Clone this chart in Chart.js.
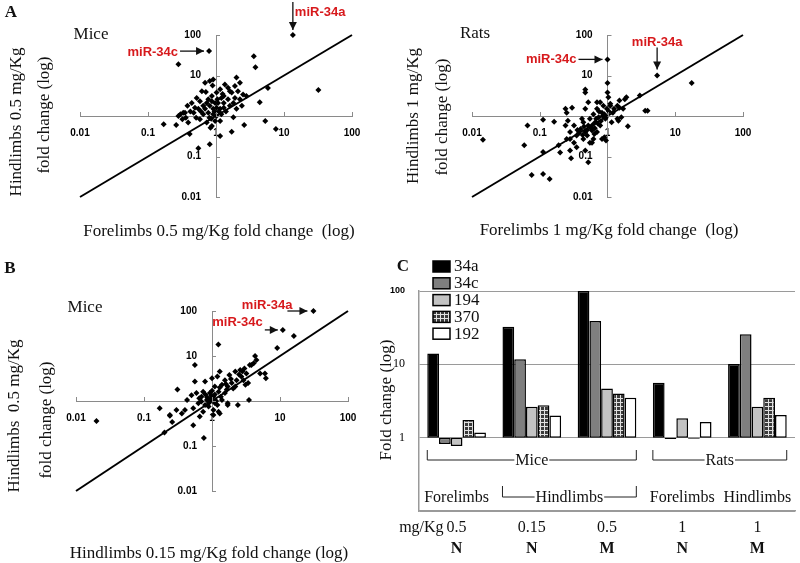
<!DOCTYPE html>
<html>
<head>
<meta charset="utf-8">
<script src="https://cdn.jsdelivr.net/npm/chart.js@4.4.1/dist/chart.umd.min.js"></script>
<style>
  body { margin: 0; width: 800px; height: 563px; background: #fff; position: relative; overflow: hidden; font-family: 'Liberation Serif', 'Times New Roman', serif; }
  .panel { position: absolute; z-index: 1; }
  .lbl { position: absolute; white-space: nowrap; transform: translate(-50%, -50%); font-size: 17px; color: #111; line-height: 1; z-index: 2; font-weight: normal; }
  .rot { transform: translate(-50%, -50%) rotate(-90deg); }
  .letter { font-weight: bold; font-size: 17px; }
</style>
</head>
<body>
<div class="panel" style="left:0;top:0;width:400px;height:250px"><canvas id="miceFore"></canvas></div>
<div class="panel" style="left:400px;top:0;width:400px;height:250px"><canvas id="ratsFore"></canvas></div>
<div class="panel" style="left:0;top:250px;width:380px;height:313px"><canvas id="miceDose"></canvas></div>
<div class="panel" style="left:380px;top:250px;width:420px;height:313px"><canvas id="mirBars"></canvas></div>

<div class="lbl letter" style="left:11px;top:11px">A</div>
<div class="lbl letter" style="left:10px;top:267px">B</div>
<div class="lbl letter" style="left:403px;top:265px">C</div>

<div class="lbl" style="left:91px;top:33px">Mice</div>
<div class="lbl" style="left:475px;top:32px">Rats</div>
<div class="lbl" style="left:85px;top:306px">Mice</div>

<div class="lbl rot" style="left:15px;top:122px">Hindlimbs 0.5 mg/Kg</div>
<div class="lbl rot" style="left:43px;top:115px">fold change (log)</div>
<div class="lbl rot" style="left:412px;top:116px">Hindlimbs 1 mg/Kg</div>
<div class="lbl rot" style="left:441px;top:117px">fold change (log)</div>
<div class="lbl rot" style="left:13px;top:416px">Hindlimbs&nbsp; 0.5 mg/Kg</div>
<div class="lbl rot" style="left:45px;top:420px">fold change (log)</div>

<div class="lbl" style="left:219px;top:230px">Forelimbs 0.5 mg/Kg fold change&nbsp; (log)</div>
<div class="lbl" style="left:609px;top:229px">Forelimbs 1 mg/Kg fold change&nbsp; (log)</div>
<div class="lbl" style="left:209px;top:552px">Hindlimbs 0.15 mg/Kg fold change (log)</div>

<script>
// ---- data ----
const logTicks = [0.01, 0.1, 1, 10, 100];
const identityLine = [0.01, 100];

// A (mice): forelimbs 0.5 vs hindlimbs 0.5
const miceFore05 = [0.69,0.81,0.91,0.89,0.62,0.71,0.52,0.44,0.38,0.33,0.30,0.47,0.55,0.65,0.77,0.87,1.02,1.15,1.35,1.5,1.7,2,2.25,2.1,1.9,2.25,2.5,2.8,2.4,2,1.6,1.3,1.15,1.02,0.97,0.87,0.73,0.58,0.65,0.77,0.91,1.07,1.2,1.5,1.8,1.4,1.2,1.15,0.83,1.3,1.6,1.9,0.58,0.49,0.42,0.36,0.32,0.51,0.39,0.35,0.28,
  0.97,0.81,1.02,0.87,0.73,1.3,0.91,0.8,0.69,1.1,0.95,0.85,1.05,0.6,1.25,
  0.17,0.26,0.41,0.55,0.81,1.15,1.7,2.6,1.8,3.6,3.8,5.8,4.4,5.3,7.6,32,0.28];
const miceHind05 = [6.6,7.3,8,5.7,4.1,3.9,2.8,2.1,1.8,1.2,1.1,1.2,1.5,1.8,2.6,3.1,3.8,4.6,6,5,3.8,8.9,6.6,4.1,2.8,2.6,3.4,3.1,1.8,1.5,1.8,2.1,1.5,1,0.75,0.57,0.69,0.83,1.1,1.2,1.5,2.1,2.8,2.6,2.1,1.3,1.1,0.75,0.51,3.1,4.1,5.5,2.3,1.6,1.3,0.91,0.83,0.91,0.69,1.2,1.0,
  2.1,1.8,1.6,2.3,2.1,1.6,1.1,0.91,1.5,1.3,1.3,0.85,2.6,1.3,3.5,
  0.63,0.6,0.36,0.16,0.2,0.32,0.41,0.6,0.93,30,16,4.9,2.2,0.75,0.48,4.4,19];
const miceFore34a = [13.5, 100];
const miceFore34c = [0.79, 40];

// A (rats): forelimbs 1 vs hindlimbs 1
const ratsFore1 = [0.0145,0.066,0.059,0.112,0.112,0.163,0.076,0.112,0.14,0.19,0.2,0.29,0.47,1,1,1.9,3,3.6,3.9,2,17.5,0.52,0.95,0.59,0.43,0.47,0.28,0.24,0.3,1.1,1.5,1.4,
  0.25,0.26,0.28,0.32,0.35,0.4,0.44,0.47,0.52,0.55,0.59,0.62,0.66,0.7,0.74,0.78,0.83,0.87,0.93,0.98,1.1,1.2,1.4,1.5,1.7,1.8,1.6,0.7,0.83,0.55,0.44,0.32,0.35,0.28,0.9,0.62,0.42,0.5,0.78,0.47,0.24,0.25,0.52,1.03,0.7,0.47,1.15,1.45,
  0.6,0.65,0.72,0.8,0.85,0.9,0.68,0.57,0.5,0.45,0.38,0.75,1.05,1.25,0.95,0.64,0.36];
const ratsHind1 = [0.26,0.58,0.19,0.81,0.13,0.72,0.035,0.037,0.028,0.19,0.126,0.091,4.5,6.5,3.8,2.9,3.2,1.35,1.35,0.56,6.5,0.072,0.25,0.22,0.34,0.14,0.27,1.5,1.6,1.8,1.6,0.85,
  1.2,0.76,0.4,0.58,0.33,0.48,0.7,0.4,0.58,0.85,0.44,1.1,0.7,1.5,0.93,0.58,1.2,1.8,0.85,1.5,2,1.2,1.8,2.4,1.5,2.6,0.93,0.4,0.27,0.22,0.27,0.22,0.17,0.14,0.3,0.27,0.85,0.33,2.2,1.5,0.58,0.27,2.2,2.9,2.2,3.8,0.7,0.76,
  0.6,0.5,0.65,0.75,1,1.1,0.85,0.5,0.45,0.55,0.38,1.3,1.3,1.5,0.95,0.36,0.45];
const ratsFore34a = [5.4, 10];
const ratsFore34c = [1, 25];

// B (mice): hindlimbs 0.15 vs hindlimbs 0.5
const miceHind015 = [0.02,0.17,0.24,0.26,0.2,0.31,0.53,0.76,0.56,1.24,1.3,1.7,3.5,9.1,16,6,6.2,4.3,4.5,3.8,0.36,
  0.56,0.59,0.5,0.43,0.4,0.53,0.63,0.7,0.74,0.84,0.93,0.89,1.05,1.1,1.2,1.25,1.4,1.55,1.65,1.8,1.95,2.2,2.3,2.6,2.7,3.1,3.2,3.6,4.1,5.1,0.79,1,1.3,1.55,1.4,1.2,1.05,1.25,1.7,2.4,0.74,0.66,0.24,0.3,2.05,2.9,3.4,0.79,0.93,0.7,1.05,
  0.85,0.95,1.1,0.9,1.15,1,0.8,1.3,1.6,1.9,2.5,1.1,0.97,1.7,2.2,1.35,0.65,2.8,3.0];
const miceHind05b = [0.36,0.69,0.47,0.34,0.2,1.8,0.29,0.15,6.3,18,0.53,0.81,1.05,15,28,4.1,3.2,10,8.2,6.3,0.53,
  2.7,1.5,1.35,1.05,0.63,0.69,0.89,1.25,1.6,1.05,1.5,0.75,1.25,2.1,3.5,1.6,2.3,2.9,1.8,3.8,2.5,4.5,2.9,4.9,3.5,2.3,4.1,6.3,6.9,4.1,2.7,3.2,4.5,1.5,1.05,0.81,0.63,0.58,0.89,0.81,0.58,0.45,0.49,0.63,1.9,2.9,2.5,0.81,0.97,0.97,0.49,
  1.2,1.1,1.4,0.9,1,1.7,1.4,2,2.4,3.1,3.9,0.9,1.3,2.1,2.1,1.25,1.15,4.6,5.3];
const miceDose34a = [31, 100];
const miceDose34c = [11, 38];

// C: miRNA fold change per group
const groupNames = ['Mice FL 0.5', 'Mice HL 0.15', 'Mice HL 0.5', 'Rats FL 1', 'Rats HL 1'];
const mirNames = ['34a', '34c', '194', '370', '192'];
const mir34a = [14.1, 32.6, 100, 5.6, 10.1];
const mir34c = [0.82, 11.7, 39, 0.96, 25.7];
const mir194 = [0.77, 2.65, 4.7, 1.84, 2.65];
const mir370 = [1.74, 2.76, 4.0, 0.97, 3.5];
const mir192 = [1.18, 2.0, 3.5, 1.64, 2.04];
const barTicks = [0.1, 1, 10, 100];
const speciesSpans = [['Mice', 0, 2], ['Rats', 3, 4]];
const tissueSpans = [['Forelimbs', 0, 0], ['Hindlimbs', 1, 2], ['Forelimbs', 3, 3], ['Hindlimbs', 4, 4]];
const doses = ['0.5', '0.15', '0.5', '1', '1'];
const models = ['N', 'N', 'M', 'N', 'M'];

// ---- helpers ----
Chart.defaults.color = '#000';
const tickFont = { family: '"Liberation Sans", Arial, sans-serif', weight: 'bold', size: 10 };
const serif = '"Liberation Serif", "Times New Roman", serif';

// red miR labels with their arrows, anchored on the data point
const arrowPlugin = {
    id: 'mirArrows',
    afterDatasetsDraw(chart, args, opts) {
        const { ctx, scales: { x, y } } = chart;
        (opts.items || []).forEach(h => {
            const px = x.getPixelForValue(h.at[0]);
            const py = y.getPixelForValue(h.at[1]);
            const x1 = px + h.from[0], y1 = py + h.from[1];
            const x2 = px + h.to[0], y2 = py + h.to[1];
            ctx.save();
            ctx.strokeStyle = '#111';
            ctx.fillStyle = '#111';
            ctx.lineWidth = 1.3;
            ctx.beginPath();
            ctx.moveTo(x1, y1);
            ctx.lineTo(x2, y2);
            ctx.stroke();
            const a = Math.atan2(y2 - y1, x2 - x1);
            ctx.beginPath();
            ctx.moveTo(x2, y2);
            ctx.lineTo(x2 - 8 * Math.cos(a) + 4 * Math.sin(a), y2 - 8 * Math.sin(a) - 4 * Math.cos(a));
            ctx.lineTo(x2 - 8 * Math.cos(a) - 4 * Math.sin(a), y2 - 8 * Math.sin(a) + 4 * Math.cos(a));
            ctx.closePath();
            ctx.fill();
            ctx.font = 'bold 13px "Liberation Sans", Arial, sans-serif';
            ctx.fillStyle = '#d7191c';
            ctx.textAlign = h.align;
            ctx.textBaseline = 'middle';
            ctx.fillText(h.label, px + h.text[0], py + h.text[1]);
            ctx.restore();
        });
    }
};

// short tick marks on the inner side of the crossing axes
const innerTicks = {
    id: 'innerTicks',
    afterDraw(chart) {
        const { ctx, scales: { x, y } } = chart;
        const ox = x.getPixelForValue(1), oy = y.getPixelForValue(1);
        ctx.save();
        ctx.strokeStyle = '#8a8a8a';
        ctx.lineWidth = 1;
        logTicks.forEach(v => {
            const px = Math.round(x.getPixelForValue(v)) + 0.5;
            const py = Math.round(y.getPixelForValue(v)) + 0.5;
            ctx.beginPath();
            ctx.moveTo(px, oy); ctx.lineTo(px, oy - 4);
            ctx.moveTo(ox, py); ctx.lineTo(ox + 4, py);
            ctx.stroke();
        });
        ctx.restore();
    }
};

const logAxis = (pos, cb) => ({
    type: 'logarithmic',
    position: pos,
    min: 0.01,
    max: 100,
    afterBuildTicks: s => { s.ticks = logTicks.map(v => ({ value: v })); },
    grid: { display: true, drawOnChartArea: false, drawTicks: false },
    border: { color: '#8a8a8a', width: 1 },
    ticks: { padding: 11, autoSkip: false, maxRotation: 0, color: '#000', font: tickFont, callback: cb }
});

const scatterPanel = (id, xs, ys, marked, pad) => {
    const pts = xs.map((x, i) => ({ x: x, y: ys[i] }));
    marked.forEach(m => pts.push({ x: m.at[0], y: m.at[1] }));
    return new Chart(document.getElementById(id), {
        type: 'scatter',
        data: {
            datasets: [
                {
                    data: identityLine.map(v => ({ x: v, y: v })),
                    showLine: true, borderColor: '#000', borderWidth: 2, pointRadius: 0, clip: false
                },
                {
                    data: pts, pointStyle: 'rectRot', pointRadius: 3,
                    backgroundColor: '#000', borderColor: '#000', borderWidth: 0, clip: false
                }
            ]
        },
        options: {
            animation: false,
            responsive: true,
            maintainAspectRatio: false,
            layout: { padding: pad },
            plugins: {
                legend: { display: false },
                tooltip: { enabled: false },
                mirArrows: { items: marked }
            },
            scales: {
                x: logAxis({ y: 1 }, v => String(v)),
                // y labels sit flush on a crossing axis, so pad them with spaces
                y: logAxis({ x: 1 }, v => (v === 1 ? '' : String(v) + '\u2003\u2002'))
            }
        },
        plugins: [arrowPlugin, innerTicks]
    });
};

// ---- panel A / B scatters ----
scatterPanel('miceFore', miceFore05, miceHind05, [
    { at: miceFore34c, label: 'miR-34c', from: [-29, 0], to: [-5, 0], text: [-31, 1], align: 'right' },
    { at: miceFore34a, label: 'miR-34a', from: [0, -33], to: [0, -5], text: [2, -23], align: 'left' }
], { left: 80, right: 48, top: 35, bottom: 53 });

scatterPanel('ratsFore', ratsFore1, ratsHind1, [
    { at: ratsFore34c, label: 'miR-34c', from: [-29, 0], to: [-5, 0], text: [-31, 0], align: 'right' },
    { at: ratsFore34a, label: 'miR-34a', from: [0, -28], to: [0, -6], text: [0, -33], align: 'center' }
], { left: 72, right: 57, top: 35, bottom: 53 });

scatterPanel('miceDose', miceHind015, miceHind05b, [
    { at: miceDose34a, label: 'miR-34a', from: [-26, 0], to: [-6, 0], text: [-21, -6], align: 'right' },
    { at: miceDose34c, label: 'miR-34c', from: [-18, 0], to: [-5, 0], text: [-20, -7], align: 'right' }
], { left: 76, right: 32, top: 61, bottom: 72 });

// ---- panel C bars ----
const plaid = () => {
    const c = document.createElement('canvas');
    c.width = 4; c.height = 4;
    const g = c.getContext('2d');
    g.fillStyle = '#3a3a3a'; g.fillRect(0, 0, 4, 4);
    g.fillStyle = '#e0e0e0'; g.fillRect(0, 0, 4, 1); g.fillRect(0, 0, 1, 4);
    return g.createPattern(c, 'repeat');
};
const barFills = ['#000000', '#7f7f7f', '#c3c3c3', plaid(), '#ffffff'];
const mirSeries = [mir34a, mir34c, mir194, mir370, mir192];

const groupLabelsPlugin = {
    id: 'groupLabels',
    afterDraw(chart) {
        const { ctx, chartArea } = chart;
        const first = chart.getDatasetMeta(0).data;
        const last = chart.getDatasetMeta(mirNames.length - 1).data;
        const left = i => first[i].x - first[i].width / 2;
        const right = i => last[i].x + last[i].width / 2;
        const mid = i => (first[i].x + last[i].x) / 2;
        const b = chartArea.bottom;
        ctx.save();
        ctx.fillStyle = '#111';
        ctx.strokeStyle = '#222';
        ctx.lineWidth = 1;
        ctx.textBaseline = 'middle';
        ctx.textAlign = 'center';

        // y title
        ctx.save();
        ctx.translate(7, 150);
        ctx.rotate(-Math.PI / 2);
        ctx.font = '17px ' + serif;
        ctx.fillText('Fold change (log)', 0, 0);
        ctx.restore();

        const bracket = (text, l, r, y, up) => {
            ctx.font = '16px ' + serif;
            const cx = (l + r) / 2;
            const w = ctx.measureText(text).width;
            ctx.beginPath();
            ctx.moveTo(l, y - up); ctx.lineTo(l, y); ctx.lineTo(cx - w / 2 - 1, y);
            ctx.moveTo(cx + w / 2 + 1, y); ctx.lineTo(r, y); ctx.lineTo(r, y - up);
            ctx.stroke();
            ctx.fillText(text, cx, y + 1);
        };

        speciesSpans.forEach(([t, s, e]) => bracket(t, left(s), right(e), b - 51, 10));
        tissueSpans.forEach(([t, s, e]) => {
            if (e > s) {
                bracket(t, left(s), right(e), b - 14, 11);
            } else {
                ctx.font = '16px ' + serif;
                ctx.fillText(t, mid(s), b - 13);
            }
        });

        ctx.font = '16px ' + serif;
        doses.forEach((d, i) => ctx.fillText(d, mid(i), b + 17));
        ctx.textAlign = 'right';
        ctx.fillText('mg/Kg', mid(0) - 13, b + 17);
        ctx.textAlign = 'center';
        ctx.font = 'bold 16px ' + serif;
        models.forEach((m, i) => ctx.fillText(m, mid(i), b + 38));

        // legend
        chart.data.datasets.forEach((ds, i) => {
            const ly = 16 + i * 16.8;
            ctx.fillStyle = ds.backgroundColor;
            ctx.fillRect(53, ly - 5, 17, 11);
            ctx.strokeStyle = '#000';
            ctx.lineWidth = 1.5;
            ctx.strokeRect(53, ly - 5, 17, 11);
            ctx.fillStyle = '#111';
            ctx.textAlign = 'left';
            ctx.font = '17px ' + serif;
            ctx.fillText(ds.label, 74, ly + 1);
        });
        ctx.restore();
    }
};

new Chart(document.getElementById('mirBars'), {
    type: 'bar',
    data: {
        labels: groupNames,
        datasets: mirNames.map((name, i) => ({
            label: name,
            data: mirSeries[i].map(v => [1, v]),
            backgroundColor: barFills[i],
            borderColor: '#000',
            borderWidth: 1.5,
            borderSkipped: false,
            categoryPercentage: 0.78,
            barPercentage: 1
        }))
    },
    options: {
        animation: false,
        responsive: true,
        maintainAspectRatio: false,
        layout: { padding: { top: 41, right: 5, bottom: 52, left: 0 } },
        plugins: { legend: { display: false }, tooltip: { enabled: false } },
        scales: {
            x: {
                ticks: { display: false },
                grid: { display: false },
                border: { color: '#9a9a9a', width: 1.5 },
                afterFit: s => { s.height = 0; }
            },
            y: {
                type: 'logarithmic',
                min: 0.1,
                max: 100,
                afterBuildTicks: s => { s.ticks = barTicks.map(v => ({ value: v })); },
                afterFit: s => { s.width = 39; },
                grid: { color: '#9a9a9a', drawTicks: false },
                border: { color: '#9a9a9a', width: 1.5 },
                ticks: {
                    padding: 14,
                    color: '#000',
                    callback: v => (v === 0.1 ? '' : String(v)),
                    font: c => (c.tick && c.tick.value === 100 ? { family: '"Liberation Sans", Arial, sans-serif', weight: 'bold', size: 9 } : { family: serif, size: 12 })
                }
            }
        }
    },
    plugins: [groupLabelsPlugin]
});
</script>
</body>
</html>
